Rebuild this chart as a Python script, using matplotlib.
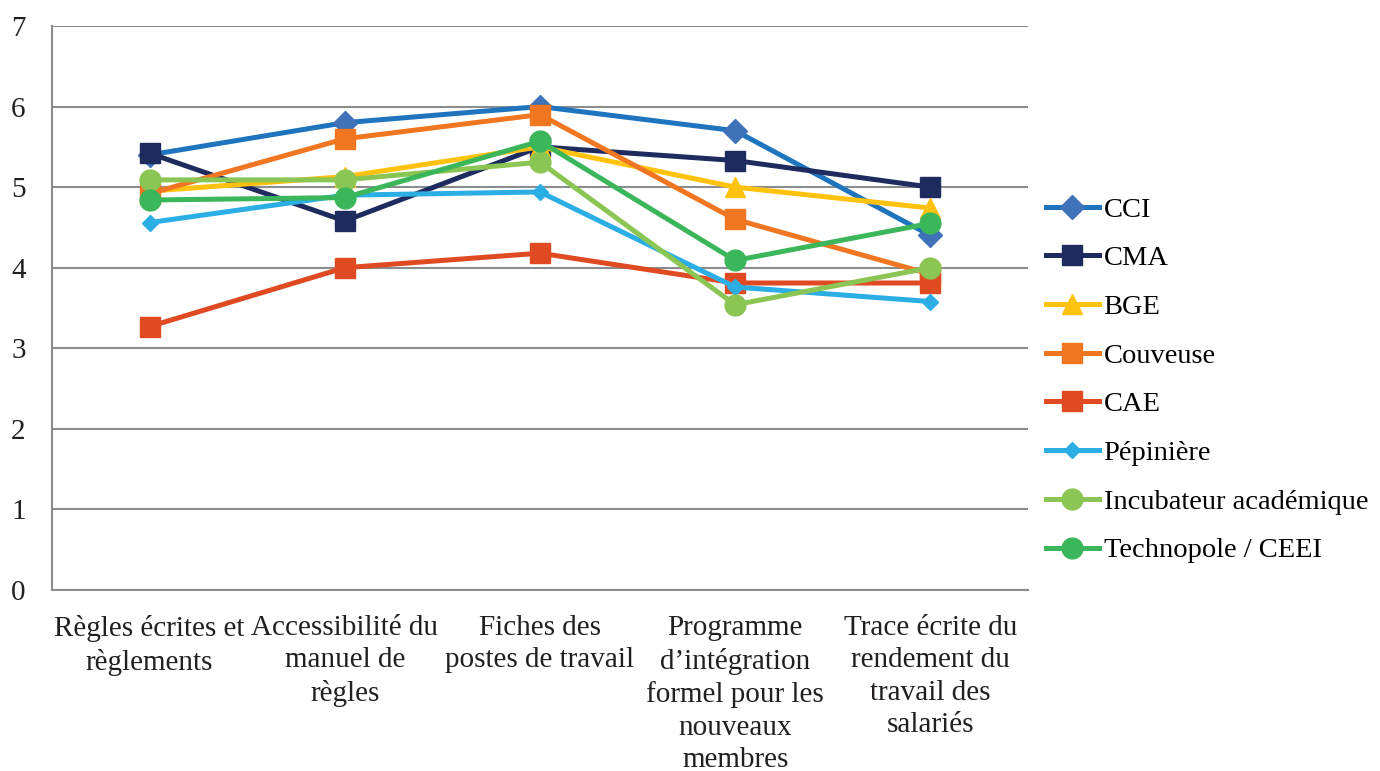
import matplotlib
matplotlib.use("Agg")
import matplotlib.pyplot as plt

categories = [
    "Règles écrites et\nrèglements",
    "Accessibilité du\nmanuel de\nrègles",
    "Fiches des\npostes de travail",
    "Programme\nd’intégration\nformel pour les\nnouveaux\nmembres",
    "Trace écrite du\nrendement du\ntravail des\nsalariés",
]

cci = [5.40, 5.80, 6.00, 5.70, 4.40]
cma = [5.42, 4.58, 5.50, 5.33, 5.00]
bge = [4.95, 5.13, 5.50, 5.00, 4.74]
couveuse = [4.92, 5.60, 5.90, 4.60, 3.92]
cae = [3.27, 4.00, 4.18, 3.81, 3.81]
pepiniere = [4.56, 4.90, 4.94, 3.76, 3.58]
incubateur = [5.09, 5.09, 5.31, 3.54, 4.00]
technopole = [4.84, 4.87, 5.57, 4.09, 4.55]

series = [
    ("CCI", cci, "#1F74BE", "D", 12, "#3F72B8"),
    ("CMA", cma, "#1E2B5E", "s", 14, "#1E2B5E"),
    ("BGE", bge, "#FFC20E", "^", 14, "#FFC20E"),
    ("Couveuse", couveuse, "#F07622", "s", 14, "#F07622"),
    ("CAE", cae, "#DF4A23", "s", 14, "#DF4A23"),
    ("Pépinière", pepiniere, "#2BAEE4", "D", 8, "#2BAEE4"),
    ("Incubateur académique", incubateur, "#8BC554", "o", 15, "#8BC554"),
    ("Technopole / CEEI", technopole, "#3CB65A", "o", 15, "#3CB65A"),
]

plt.rcParams["font.family"] = ["Liberation Serif", "DejaVu Serif"]

fig = plt.figure(figsize=(13.8, 7.71), dpi=100)
ax = fig.add_axes([0.0377, 0.2348, 0.7072, 0.7315])

x = list(range(len(categories)))
for name, vals, col, mk, ms, mcol in series:
    ax.plot(x, vals, color=col, lw=3.6, marker=mk, markersize=ms,
            markerfacecolor=mcol, markeredgecolor=mcol, label=name,
            solid_joinstyle="round")

ax.set_xlim(-0.5, len(categories) - 0.5)
ax.set_ylim(0, 7)
ax.set_yticks(range(8))
ax.yaxis.grid(True, color="#8A8C8E", lw=1.5)
ax.set_axisbelow(True)
for s in ["top", "right"]:
    ax.spines[s].set_visible(False)
for s in ["left", "bottom"]:
    ax.spines[s].set_color("#8A8C8E")
    ax.spines[s].set_linewidth(1.5)

ax.set_xticks(x)
ax.set_xticklabels(categories, fontsize=21, linespacing=1.32, color="#231F20")
ax.tick_params(axis="x", length=0, pad=18)
ax.tick_params(axis="y", length=0, pad=19, labelsize=21, labelcolor="#231F20")

ax.legend(loc="upper left", bbox_to_anchor=(0.758, 0.745),
          bbox_transform=fig.transFigure, frameon=False, fontsize=20.5,
          handlelength=1.85, handletextpad=0.17, labelspacing=0.8,
          borderpad=0, borderaxespad=0)

fig.savefig("out.png", dpi=100)
